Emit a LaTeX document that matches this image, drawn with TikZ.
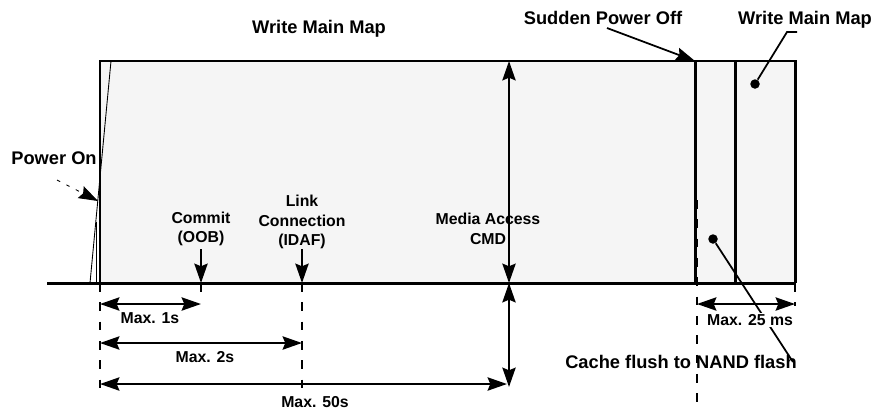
\documentclass[tikz,border=0pt]{standalone}
\usepackage{fontspec}
\setmainfont{Liberation Sans}
\usetikzlibrary{arrows.meta,positioning,calc}

\begin{document}
\begin{tikzpicture}[x=0.02cm,y=-0.02cm,
font=\bfseries\fontsize{10.4}{12}\selectfont]

\tikzset{head/.tip={Stealth[length=11pt,width=7.5pt,inset=1.5pt]}}
\tikzstyle{lbl}=[font=\bfseries\fontsize{9}{11}\selectfont, align=center, inner sep=1pt]
\tikzstyle{heavy}=[line width=1.7pt]
\tikzstyle{dim}=[{head}-{head}, line width=1.4pt]
\tikzstyle{pointer}=[-{head}, line width=1.4pt]
\tikzstyle{guide}=[line width=1pt, dash pattern=on 5pt off 6pt]
\tikzstyle{dot}=[circle, fill=black, inner sep=0pt, minimum size=0.19cm]

\useasboundingbox (0,0) rectangle (875,410);

%time axis
\coordinate (on) at (100,283);
\coordinate (commit) at (201,283);
\coordinate (link) at (302,283);
\coordinate (media) at (509,283);
\coordinate (off) at (695,283);
\coordinate (flush) at (735,283);
\coordinate (end) at (795,283);

\fill[black!4] (100,61) rectangle (795,283);
\draw[heavy] (on) |- (795,61) -- (end);
\draw[heavy] (off) -- (695,61);
\draw[heavy] (flush) -- (735,61);
\draw[heavy] (47,283) -- (end);

%power on ramp
\draw[line width=0.5pt] (90,283) -- (111,61);
\draw[line width=0.5pt] (96,222) -- (96,283);
\node (pon) at (54,158) {Power On};
\draw[-{head}, line width=0.5pt, dash pattern=on 2pt off 4pt] (57,180) -- (98,201);

%events
\node[lbl] (commitlbl) at (201,229) {Commit\\(OOB)};
\node[lbl] (linklbl) at (302,222) {Link\\Connection\\(IDAF)};
\node[lbl] (medialbl) at (488,229) {Media Access\\CMD};
\draw[pointer] (201,249) -- (commit);
\draw[pointer] (302,249) -- (link);
\draw[dim] (509,61) -- (media);
\coordinate (fifty) at (509,387);
\draw[dim] (media) -- (fifty);

%guides
\draw[guide] (on) -- (100,390);
\draw[guide] (commit) -- (201,298);
\draw[guide] (link) -- (302,392);
\draw[guide] (697,200) -- (697,408);
\draw[guide] (end) -- (795,306);

%durations
\draw[dim] (100,304) -- (201,304);
\node[lbl] (max1) at (150,318) {Max. 1s};
\draw[dim] (100,343) -- (302,343);
\node[lbl] (max2) at (205,357) {Max. 2s};
\draw[dim] (100,384) -- (507,384);
\node[lbl] (max50) at (315,402) {Max. 50s};

%sudden power off
\node (wmm) at (319,29) {Write Main Map};
\node (spo) at (603,18) {Sudden Power Off};
\draw[-{head}, line width=1pt] (607,28) -- (695,61);
\node (wmm2) at (805,20) {Write Main Map};
\node[dot] (wmmdot) at (755,84) {};
\draw[line width=1pt] (wmmdot) -- (787,32) -- (797,32);

\node (cache) at (681,362) {Cache flush to NAND flash};
\node[dot] (flushdot) at (713,239) {};
\draw[line width=1pt] (flushdot) -- (793,362);
\draw[dim] (697,304) -- (795,304);
\node[lbl, fill=white] (max25) at (750,320) {Max. 25 ms};

\end{tikzpicture}
\end{document}
